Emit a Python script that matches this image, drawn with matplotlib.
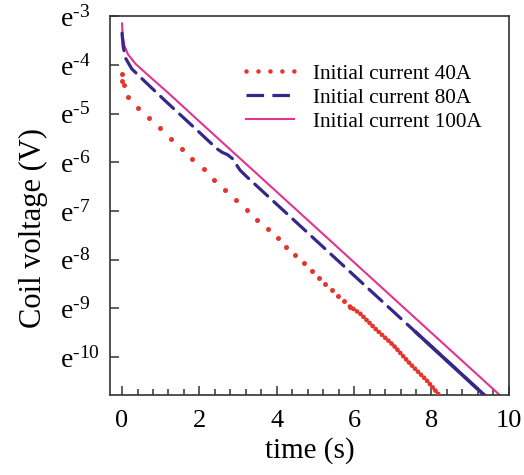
import numpy as np
import matplotlib
matplotlib.use('Agg')
import matplotlib.pyplot as plt
from matplotlib.lines import Line2D
from matplotlib.ticker import FixedLocator, MultipleLocator, FuncFormatter

plt.rcParams['font.family'] = 'Liberation Serif'
plt.rcParams['mathtext.fontset'] = 'custom'
plt.rcParams['mathtext.rm'] = 'Liberation Serif'
plt.rcParams['mathtext.it'] = 'Liberation Serif:italic'

# coil voltage decay, stored as ln(V) against time (s)
t_40A = [0.0, 0.0, 0.04, 0.15, 0.41, 0.70, 0.99, 1.26, 1.55, 1.82, 2.11, 2.38,
         2.67, 2.94, 3.23, 3.50, 3.77, 4.02, 4.24, 4.47, 4.70, 4.92, 5.10,
         5.26, 5.43, 5.59, 5.74, 5.89]
lnv_40A = [-4.18, -4.33, -4.41, -4.66, -4.88, -5.09, -5.29, -5.52, -5.72, -5.94,
           -6.14, -6.36, -6.57, -6.77, -6.98, -7.18, -7.37, -7.55, -7.73, -7.90,
           -8.06, -8.23, -8.38, -8.50, -8.62, -8.74, -8.85, -8.96]
# densely sampled tail of the 40A record
t_40A_tail = [5.89, 6.15, 6.58, 7.01, 7.44, 7.87, 8.16, 8.20]
lnv_40A_tail = [-8.96, -9.10, -9.44, -9.75, -10.13, -10.47, -10.74, -10.78]

t_80A = [0.0, 0.03, 0.09, 0.25, 0.47, 1.12, 2.02, 2.45, 2.60, 2.72, 2.85, 3.05,
         3.23, 4.60, 6.20, 7.60, 9.37]
lnv_80A = [-3.35, -3.62, -3.86, -4.08, -4.25, -4.74, -5.40, -5.72, -5.80, -5.84,
           -5.92, -6.16, -6.30, -7.30, -8.47, -9.49, -10.78]

t_100A = [0.0, 0.02, 0.06, 0.15, 0.35, 0.70, 1.20, 2.19, 3.05, 4.60, 6.23, 9.77]
lnv_100A = [-3.15, -3.42, -3.60, -3.78, -3.98, -4.23, -4.58, -5.30, -5.92, -7.04,
            -8.22, -10.78]

labels = ['Initial current 40A', 'Initial current 80A', 'Initial current 100A']
c_red = '#e5352d'
c_blue = '#35288a'
c_pink = '#e2338e'

fig = plt.figure(figsize=(5.24, 4.75), dpi=100)
ax = fig.add_axes([0.21, 0.168, 0.761, 0.798])
ax.set_yscale('log', base=np.e)

ax.plot(t_100A, np.exp(lnv_100A), color=c_pink, lw=1.5, zorder=2)

ax.plot(t_80A, np.exp(lnv_80A), color=c_blue, lw=2.3, linestyle=(0, (5.5, 2.6)),
        dash_capstyle='round', zorder=3)
t80 = np.array(t_80A)
ax.plot(t80[t80 >= 7.6], np.exp(np.array(lnv_80A)[t80 >= 7.6]), color=c_blue,
        lw=2.6, zorder=3)

ax.plot(t_40A, np.exp(lnv_40A), 'o', color=c_red, ms=3.6, mec='none', zorder=4)
ax.plot(t_40A_tail, np.exp(lnv_40A_tail), color=c_red, lw=3.4,
        linestyle=(0, (0.01, 0.9)), dash_capstyle='round', zorder=4)

ax.set_xlim(-0.31, 10)
ax.set_ylim(np.exp(-10.78), np.exp(-3))
ax.xaxis.set_major_locator(MultipleLocator(2))
ax.xaxis.set_minor_locator(MultipleLocator(0.4))
ax.yaxis.set_major_locator(FixedLocator(np.exp(np.arange(-10, -2))))
ax.yaxis.set_minor_locator(FixedLocator([]))
ax.yaxis.set_major_formatter(FuncFormatter(
    lambda v, pos: 'e$^{\\text{-%d}}$' % abs(round(np.log(v)))))

ax.tick_params(axis='both', which='both', direction='in', width=1.1, color='#333333')
ax.tick_params(axis='x', which='major', length=6.5, labelsize=19, pad=11)
ax.tick_params(axis='x', which='minor', length=4)
ax.tick_params(axis='y', which='major', length=6.5, labelsize=20, pad=36)
for lab in ax.get_yticklabels():
    lab.set_horizontalalignment('left')
for s in ax.spines.values():
    s.set_linewidth(1.2)
    s.set_color('#333333')

ax.set_xlabel('time (s)', fontsize=21, labelpad=3)
ax.set_ylabel('Coil voltage (V)', fontsize=22)
ax.yaxis.set_label_coords(-0.155, 0.44)

handles = [
    Line2D([], [], color=c_red, lw=3.3, linestyle=(0, (0.01, 2.6)), dash_capstyle='round'),
    Line2D([], [], color=c_blue, lw=2.3, linestyle=(0, (5.5, 2.6))),
    Line2D([], [], color=c_pink, lw=1.5),
]
ax.legend(handles, labels, loc='upper left', bbox_to_anchor=(0.292, 0.925),
          frameon=False, fontsize=15.3, handlelength=2.3, handletextpad=0.85,
          labelspacing=0.2)

fig.savefig('out.png', dpi=100)
